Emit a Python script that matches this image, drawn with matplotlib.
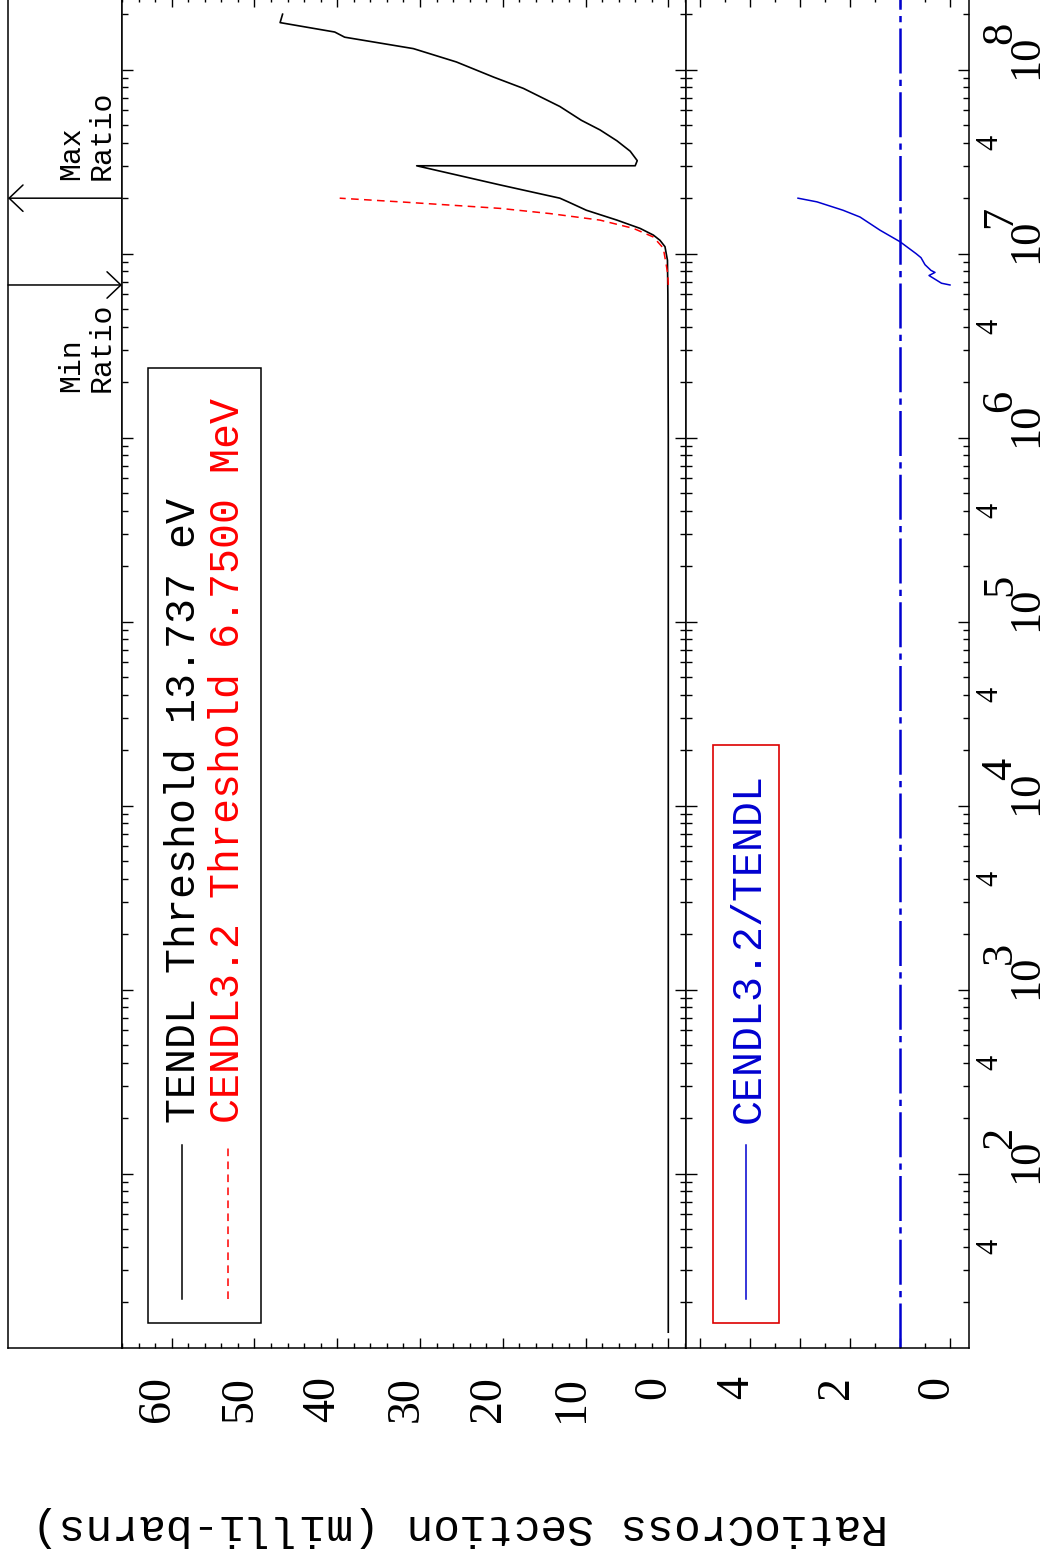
import numpy as np
import matplotlib
matplotlib.use('Agg')
import matplotlib.pyplot as plt
from matplotlib.ticker import MultipleLocator, LogLocator, NullFormatter
from matplotlib.transforms import offset_copy
from matplotlib.patches import Rectangle
from matplotlib.lines import Line2D

# ==== data (energy in eV, cross section in milli-barns) ====
tendl_e = [13.737, 1.0e6, 6.0e6, 9.2e6, 1.09e7, 1.18e7, 1.26e7, 1.37e7, 1.52e7,
           1.72e7, 1.91e7, 2.0e7, 2.36e7, 3.0e7, 3.001e7, 3.2e7, 3.6e7, 4.1e7,
           4.7e7, 5.3e7, 6.3e7, 7.9e7, 9.1e7, 1.1e8, 1.3e8, 1.5e8, 1.6e8, 1.8e8, 2.0e8]
tendl_xs = [0.0, 0.0, 0.05, 0.1, 0.4, 1.0, 1.8, 3.4, 6.2,
            9.9, 12.1, 13.1, 20.3, 30.4, 4.0, 3.75, 4.6, 6.2,
            8.25, 10.5, 13.1, 17.5, 21.1, 25.6, 30.8, 39.1, 40.3, 46.9, 46.6]

cendl_e = [6.75e6, 7.8e6, 1.07e7, 1.23e7, 1.37e7, 1.52e7, 1.65e7, 1.76e7, 1.835e7, 1.91e7, 2.0e7]
cendl_xs = [0.0, 0.07, 0.6, 1.8, 4.2, 8.25, 14.3, 20.3, 26.4, 32.4, 39.7]

ratio_e = [6.75e6, 6.9e6, 7.2e6, 7.6e6, 7.9e6, 8.1e6, 8.7e6, 9.5e6, 1.0e7,
           1.16e7, 1.34e7, 1.58e7, 1.72e7, 1.91e7, 2.0e7]
ratio_v = [0.0, 0.17, 0.28, 0.42, 0.30, 0.38, 0.50, 0.58, 0.68,
           1.0, 1.4, 1.8, 2.14, 2.66, 3.04]
unity = 1.0

min_ratio_e = 6.75e6
max_ratio_e = 2.0e7

xs_labels = [0, 10, 20, 30, 40, 50, 60]
ratio_labels = [0, 2, 4]
decades = [2, 3, 4, 5, 6, 7, 8]
four_labels = [4e1, 4e2, 4e3, 4e4, 4e5, 4e6, 4e7]

legend_text = ['TENDL Threshold 13.737 eV', 'CENDL3.2 Threshold 6.7500 MeV']
ratio_legend = 'CENDL3.2/TENDL'
ylabel = 'RatioCross Section (milli-barns)'

# ==== figure ====
W, H, DPI = 1046, 1559, 100
PT = 72.0 / DPI
blue = '#0000d0'
mono = 'Liberation Mono'
serif = 'Liberation Serif'

fig = plt.figure(figsize=(W / DPI, H / DPI), dpi=DPI)


def box(x0, x1, y0, y1):
    return [x0 / W, 1 - y1 / H, (x1 - x0) / W, (y1 - y0) / H]


e_lim = (11.27, 2.48e8)

ax_h = fig.add_axes(box(8, 122, -3, 1348))
ax1 = fig.add_axes(box(122, 686, -3, 1348))
ax2 = fig.add_axes(box(686, 969, -3, 1348))

for ax in (ax_h, ax1, ax2):
    ax.set_yscale('log')
    ax.set_ylim(*e_lim)
    for sp in ax.spines.values():
        sp.set_linewidth(1.1)

ax_h.set_xlim(0, 1)
ax_h.tick_params(which='both', left=False, right=False, bottom=False, top=False,
                 labelleft=False, labelbottom=False)

for ax in (ax1, ax2):
    ax.yaxis.set_major_locator(LogLocator(base=10, numticks=30))
    ax.yaxis.set_minor_locator(LogLocator(base=10, subs=np.arange(2, 10), numticks=30))
    ax.yaxis.set_major_formatter(NullFormatter())
    ax.yaxis.set_minor_formatter(NullFormatter())
    ax.tick_params(which='both', direction='in', left=True, right=True, top=True,
                   bottom=True, labelleft=False, labelbottom=False, width=1.0)
    ax.tick_params(axis='y', which='major', length=8)
    ax.tick_params(axis='y', which='minor', length=4.3)
    ax.tick_params(axis='x', which='major', length=7.4)
    ax.tick_params(axis='x', which='minor', length=3.8)

ax1.set_xlim(66.0, -2.14)
ax1.xaxis.set_major_locator(MultipleLocator(10))
ax1.xaxis.set_minor_locator(MultipleLocator(2))
ax2.set_xlim(5.28, -0.38)
ax2.xaxis.set_major_locator(MultipleLocator(1))
ax2.xaxis.set_minor_locator(MultipleLocator(0.5))

# curves
ax1.plot(tendl_xs, tendl_e, color='black', lw=1.2)
ax1.plot(cendl_xs, cendl_e, color='red', lw=1.1, dashes=(5, 3.5))
ax2.plot(ratio_v, ratio_e, color=blue, lw=1.1)
ax2.axvline(unity, color=blue, lw=1.8, dashes=(18, 2.5, 2.5, 2.5))

# header arrows
htr = ax_h.get_yaxis_transform()
ax_h.annotate('', xy=(0, max_ratio_e), xytext=(1, max_ratio_e), xycoords=htr,
              arrowprops=dict(arrowstyle='->,head_length=1.0,head_width=0.95',
                              lw=1.1, color='black', shrinkA=0, shrinkB=0,
                              mutation_scale=10))
ax_h.annotate('', xy=(1, min_ratio_e), xytext=(0, min_ratio_e), xycoords=htr,
              arrowprops=dict(arrowstyle='->,head_length=1.0,head_width=0.95',
                              lw=1.1, color='black', shrinkA=0, shrinkB=0,
                              mutation_scale=10))
ax_h.annotate('Max\nRatio', xy=(0.69, max_ratio_e), xycoords=htr, xytext=(0, 13),
              textcoords='offset points', rotation=90, ha='center', va='bottom',
              fontsize=21.5, family=mono, linespacing=1.1, multialignment='left')
ax_h.annotate('Min\nRatio', xy=(0.69, min_ratio_e), xycoords=htr, xytext=(0, -12.5),
              textcoords='offset points', rotation=90, ha='center', va='top',
              fontsize=21.5, family=mono, linespacing=1.1, multialignment='left')

# tick labels (rotated page)
tr1 = offset_copy(ax1.get_xaxis_transform(), fig=fig, x=-14 * PT, y=-28 * PT, units='points')
for v in xs_labels:
    ax1.text(v, 0, str(v), transform=tr1, rotation=90, ha='center', va='top',
             fontsize=33, family=serif)
tr2 = offset_copy(ax2.get_xaxis_transform(), fig=fig, x=-13 * PT, y=-28 * PT, units='points')
for v in ratio_labels:
    ax2.text(v, 0, str(v), transform=tr2, rotation=90, ha='center', va='top',
             fontsize=33, family=serif)

etr = ax2.get_yaxis_transform()
tr_base = offset_copy(etr, fig=fig, x=57 * PT, y=-9 * PT, units='points')
tr_exp = offset_copy(etr, fig=fig, x=31 * PT, y=26 * PT, units='points')
tr_four = offset_copy(etr, fig=fig, x=21 * PT, y=0, units='points')
for d in decades:
    ax2.text(1, 10.0 ** d, '10', transform=tr_base, rotation=90, ha='center',
             va='bottom', fontsize=32, family=serif)
    ax2.text(1, 10.0 ** d, str(d), transform=tr_exp, rotation=90, ha='center',
             va='bottom', fontsize=32, family=serif)
for e in four_labels:
    ax2.text(1, e, '4', transform=tr_four, rotation=90, ha='center', va='center',
             fontsize=22, family=serif)

# legends drawn in page pixels
def fx(x):
    return x / W


def fy(y):
    return 1 - y / H


fig.add_artist(Rectangle((fx(148), fy(1323)), (261 - 148) / W, (1323 - 368) / H,
                         transform=fig.transFigure, fill=False, ec='black', lw=1.1))
fig.add_artist(Line2D([fx(182)] * 2, [fy(1299), fy(1145)], transform=fig.transFigure,
                      color='black', lw=1.1))
fig.add_artist(Line2D([fx(228)] * 2, [fy(1299), fy(1145)], transform=fig.transFigure,
                      color='red', lw=1.1, dashes=(5, 3.5)))
fig.text(fx(195), fy(1123), legend_text[0], rotation=90, rotation_mode='anchor',
         ha='left', va='baseline', fontsize=30, family=mono, color='black')
fig.text(fx(239), fy(1123), legend_text[1], rotation=90, rotation_mode='anchor',
         ha='left', va='baseline', fontsize=30, family=mono, color='red')

fig.add_artist(Rectangle((fx(713), fy(1323)), (779 - 713) / W, (1323 - 745) / H,
                         transform=fig.transFigure, fill=False, ec='#dd0000', lw=1.2))
fig.add_artist(Line2D([fx(746)] * 2, [fy(1299), fy(1145)], transform=fig.transFigure,
                      color=blue, lw=1.1))
fig.text(fx(760), fy(1123), ratio_legend, rotation=90, rotation_mode='anchor',
         ha='left', va='baseline', fontsize=30, family=mono, color=blue)

fig.text(fx(460), fy(1527), ylabel, rotation=180, ha='center', va='center',
         fontsize=32, family=mono)

fig.savefig('out.png', dpi=DPI)
